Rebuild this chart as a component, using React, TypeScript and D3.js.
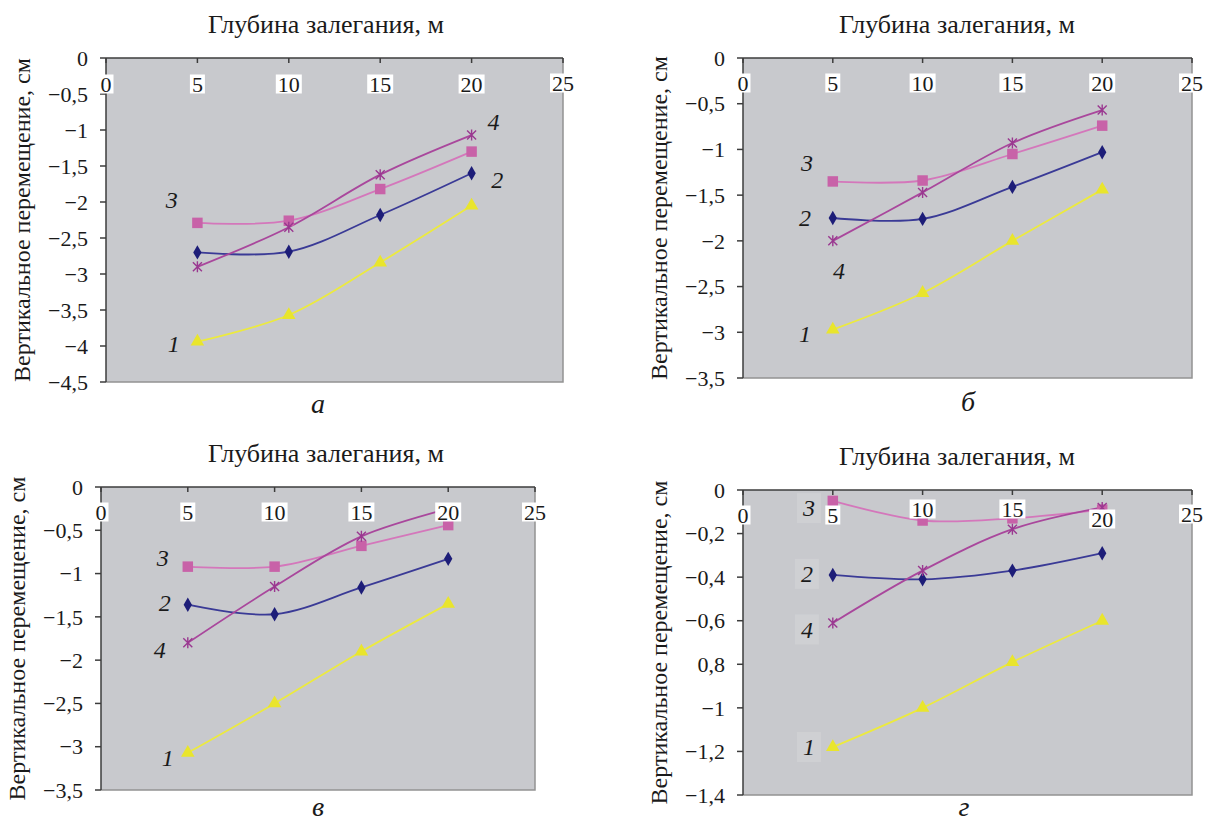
import React from "react";
import * as d3 from "d3";

const width = 1208;
const height = 827;

// shared x: depth of occurrence, m
const depths = [5, 10, 15, 20];
const xTicks = [0, 5, 10, 15, 20, 25];
const seriesNames = ["1", "2", "3", "4"];

// panel а
const a1 = [-3.94, -3.57, -2.84, -2.05];
const a2 = [-2.7, -2.69, -2.18, -1.6];
const a3 = [-2.29, -2.26, -1.82, -1.3];
const a4 = [-2.9, -2.35, -1.62, -1.07];
const aYTicks = [0, -0.5, -1, -1.5, -2, -2.5, -3, -3.5, -4, -4.5];
const aYLabels = ["0", "−0,5", "−1", "−1,5", "−2", "−2,5", "−3", "−3,5", "−4", "−4,5"];
const aNotes = [[3.7, -3.96], [21.4, -1.69], [3.6, -1.97], [21.2, -0.89]];

// panel б
const b1 = [-2.97, -2.57, -2.0, -1.44];
const b2 = [-1.75, -1.76, -1.41, -1.03];
const b3 = [-1.35, -1.34, -1.05, -0.74];
const b4 = [-2.0, -1.47, -0.93, -0.57];
const bYTicks = [0, -0.5, -1, -1.5, -2, -2.5, -3, -3.5];
const bYLabels = ["0", "−0,5", "−1", "−1,5", "−2", "−2,5", "−3", "−3,5"];
const bNotes = [[3.45, -3.01], [3.45, -1.75], [3.56, -1.14], [5.35, -2.32]];

// panel в
const c1 = [-3.07, -2.5, -1.9, -1.35];
const c2 = [-1.36, -1.47, -1.16, -0.83];
const c3 = [-0.92, -0.92, -0.68, -0.44];
const c4 = [-1.8, -1.15, -0.57, -0.25];
const cYTicks = [0, -0.5, -1, -1.5, -2, -2.5, -3, -3.5];
const cYLabels = ["0", "−0,5", "−1", "−1,5", "−2", "−2,5", "−3", "−3,5"];
const cNotes = [[3.84, -3.13], [3.67, -1.33], [3.55, -0.81], [3.38, -1.88]];

// panel г
const d1 = [-1.18, -1.0, -0.79, -0.6];
const d2 = [-0.39, -0.41, -0.37, -0.29];
const d3v = [-0.05, -0.14, -0.13, -0.09];
const d4 = [-0.61, -0.37, -0.18, -0.08];
const dYTicks = [0, -0.2, -0.4, -0.6, -0.8, -1, -1.2, -1.4];
const dYLabels = ["0", "−0,2", "−0,4", "−0,6", "0,8", "−1", "−1,2", "−1,4"];
const dNotes = [[3.67, -1.18], [3.56, -0.385], [3.67, -0.083], [3.56, -0.64]];

const colors = {
  line: ["#ecea3e", "#3a3a96", "#d477bb", "#a9479c"],
  mark: ["#e9e52c", "#1d1d78", "#c862a8", "#9a3890"],
};

const FONT = "'Liberation Serif', 'Times New Roman', serif";

const panels = [
  {
    box: { left: 106, right: 563, top: 58, bottom: 382 },
    yDomain: [-4.5, 0], yTicks: aYTicks, yLabels: aYLabels,
    series: [a1, a2, a3, a4], notes: aNotes,
    letter: "а", titleX: 326, letterX: 318, letterDy: 31, xLabelDy: [26, 26, 26, 26, 26, 25],
  },
  {
    box: { left: 743, right: 1192, top: 58, bottom: 378 },
    yDomain: [-3.5, 0], yTicks: bYTicks, yLabels: bYLabels,
    series: [b1, b2, b3, b4], notes: bNotes,
    letter: "б", titleX: 957, letterX: 968, letterDy: 33, xLabelDy: [25, 25, 25, 25, 25, 25],
  },
  {
    box: { left: 101, right: 535, top: 487, bottom: 790 },
    yDomain: [-3.5, 0], yTicks: cYTicks, yLabels: cYLabels,
    series: [c1, c2, c3, c4], notes: cNotes,
    letter: "в", titleX: 326, letterX: 318, letterDy: 26, xLabelDy: [25, 25, 25, 25, 25, 25],
  },
  {
    box: { left: 743, right: 1192, top: 490, bottom: 795 },
    yDomain: [-1.4, 0], yTicks: dYTicks, yLabels: dYLabels,
    series: [d1, d2, d3v, d4], notes: dNotes, noteBox: true,
    letter: "г", titleX: 957, letterX: 964, letterDy: 21, xLabelDy: [25, 25, 19, 19, 29, 24],
  },
];

function Marker({ kind, x, y, color }) {
  if (kind === 3) {
    const r = 4.5;
    return (
      <path
        d={`M${x - r},${y - r}L${x + r},${y + r}M${x - r},${y + r}L${x + r},${y - r}M${x},${y - r - 1}L${x},${y + r + 1}`}
        stroke={color}
        strokeWidth={1.4}
        fill="none"
      />
    );
  }
  const sym = [d3.symbolTriangle, d3.symbolDiamond, d3.symbolSquare][kind];
  const size = [80, 60, 110][kind];
  const p = d3.symbol().type(sym).size(size)();
  return <path d={p} transform={`translate(${x},${y})`} fill={color} />;
}

function Panel({ cfg }) {
  const { box, yDomain, yTicks, yLabels, series, notes, letter, titleX, letterX, letterDy, xLabelDy, noteBox } = cfg;
  const x = d3.scaleLinear().domain([0, 25]).range([box.left, box.right]);
  const y = d3.scaleLinear().domain(yDomain).range([box.bottom, box.top]);
  const line = d3
    .line<number>()
    .x((_, i) => x(depths[i]))
    .y((d) => y(d))
    .curve(d3.curveCatmullRom.alpha(0.5));

  return (
    <g fontFamily={FONT} fill="#1a1a1a">
      <rect x={box.left} y={box.top} width={box.right - box.left} height={box.bottom - box.top} fill="#c8c9cd" />
      {/* right and bottom frame */}
      <path
        d={`M${box.right},${box.top}V${box.bottom}H${box.left}`}
        stroke="#939393"
        strokeWidth={1.5}
        fill="none"
      />
      {series.map((s, i) => (
        <path key={`l${i}`} d={line(s)} stroke={colors.line[i]} strokeWidth={1.8} fill="none" />
      ))}
      {series.map((s, i) =>
        s.map((v, j) => <Marker key={`m${i}_${j}`} kind={i} x={x(depths[j])} y={y(v)} color={colors.mark[i]} />)
      )}
      {/* axes */}
      <line x1={box.left} x2={box.left} y1={box.top} y2={box.bottom} stroke="#3c3c3c" strokeWidth={1.5} />
      <line x1={box.left} x2={box.right} y1={box.top} y2={box.top} stroke="#3c3c3c" strokeWidth={1.5} />
      {yTicks.map((t, i) => (
        <g key={`yt${i}`}>
          <line x1={box.left - 6} x2={box.left} y1={y(t)} y2={y(t)} stroke="#3c3c3c" strokeWidth={1.5} />
          <text x={box.left - 18} y={y(t)} dy="0.35em" textAnchor="end" fontSize={22}>
            {yLabels[i]}
          </text>
        </g>
      ))}
      {xTicks.map((t) => (
        <line key={`xt${t}`} x1={x(t)} x2={x(t)} y1={box.top} y2={box.top + 5} stroke="#3c3c3c" strokeWidth={1.5} />
      ))}
      {xTicks.map((t, i) => {
        const label = String(t);
        const w = label.length * 11 + 4;
        const cy = box.top + xLabelDy[i];
        return (
          <g key={`xl${t}`}>
            <rect x={x(t) - w / 2} y={cy - 9.5} width={w} height={19} fill="#ffffff" />
            <text x={x(t)} y={cy + 7.5} textAnchor="middle" fontSize={22}>
              {label}
            </text>
          </g>
        );
      })}
      {notes.map(([nx, ny], i) => (
        <g key={`n${i}`}>
          {noteBox && <rect x={x(nx) - 12} y={y(ny) - 15} width={24} height={30} fill="#cfd0d3" />}
          <text x={x(nx)} y={y(ny)} dy="0.35em" textAnchor="middle" fontSize={24} fontStyle="italic">
            {seriesNames[i]}
          </text>
        </g>
      ))}
      <text x={titleX} y={box.top - 25} textAnchor="middle" fontSize={26}>
        Глубина залегания, м
      </text>
      <text
        transform={`translate(${box.left - 84},${(box.top + box.bottom) / 2}) rotate(-90)`}
        textAnchor="middle"
        dy="0.35em"
        fontSize={24}
      >
        Вертикальное перемещение, см
      </text>
      <text x={letterX} y={box.bottom + letterDy} textAnchor="middle" fontSize={28} fontStyle="italic">
        {letter}
      </text>
    </g>
  );
}

export default function App() {
  return (
    <svg
      width={width}
      height={height}
      style={{ position: "absolute", left: 0, top: 0, background: "#ffffff" }}
    >
      {panels.map((p, i) => (
        <Panel key={i} cfg={p} />
      ))}
    </svg>
  );
}
